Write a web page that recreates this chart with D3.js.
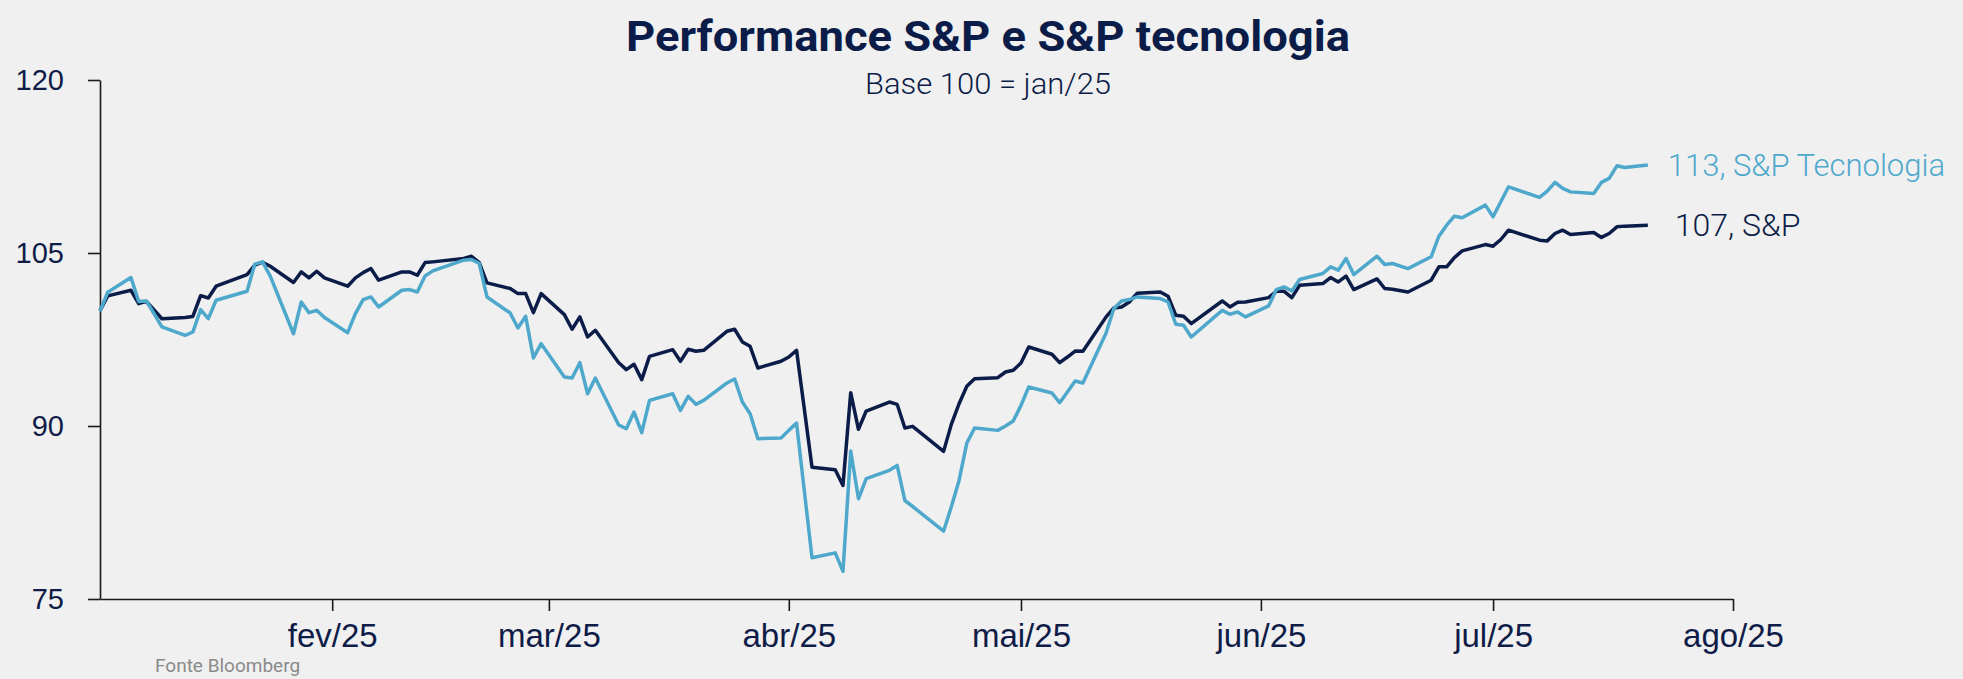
<!DOCTYPE html>
<html>
<head>
<meta charset="utf-8">
<script src="https://cdn.jsdelivr.net/npm/d3@7"></script>
<style>
  body { margin: 0; background: #f0f0f0; }
  svg { display: block; font-family: Roboto, "Open Sans", sans-serif; }
  .axis path, .axis line { stroke: #1a1a1a; stroke-width: 1.6px; }
  .axis text { fill: #0f1c48; font-weight: 300; }
</style>
</head>
<body>
<div id="chart"></div>
<script>
// Chart data (base 100 = jan/25)
var dates = [
  "2025-01-02","2025-01-03","2025-01-06","2025-01-07","2025-01-08","2025-01-10","2025-01-13","2025-01-14",
  "2025-01-15","2025-01-16","2025-01-17","2025-01-21","2025-01-22","2025-01-23","2025-01-24","2025-01-27",
  "2025-01-28","2025-01-29","2025-01-30","2025-01-31","2025-02-03","2025-02-04","2025-02-05","2025-02-06",
  "2025-02-07","2025-02-10","2025-02-11","2025-02-12","2025-02-13","2025-02-14","2025-02-18","2025-02-19",
  "2025-02-20","2025-02-21","2025-02-24","2025-02-25","2025-02-26","2025-02-27","2025-02-28","2025-03-03",
  "2025-03-04","2025-03-05","2025-03-06","2025-03-07","2025-03-10","2025-03-11","2025-03-12","2025-03-13",
  "2025-03-14","2025-03-17","2025-03-18","2025-03-19","2025-03-20","2025-03-21","2025-03-24","2025-03-25",
  "2025-03-26","2025-03-27","2025-03-28","2025-03-31","2025-04-01","2025-04-02","2025-04-03","2025-04-04",
  "2025-04-07","2025-04-08","2025-04-09","2025-04-10","2025-04-11","2025-04-14","2025-04-15","2025-04-16",
  "2025-04-17","2025-04-21","2025-04-22","2025-04-23","2025-04-24","2025-04-25","2025-04-28","2025-04-29",
  "2025-04-30","2025-05-01","2025-05-02","2025-05-05","2025-05-06","2025-05-07","2025-05-08","2025-05-09",
  "2025-05-12","2025-05-13","2025-05-14","2025-05-15","2025-05-16","2025-05-19","2025-05-20","2025-05-21",
  "2025-05-22","2025-05-23","2025-05-27","2025-05-28","2025-05-29","2025-05-30","2025-06-02","2025-06-03",
  "2025-06-04","2025-06-05","2025-06-06","2025-06-09","2025-06-10","2025-06-11","2025-06-12","2025-06-13",
  "2025-06-16","2025-06-17","2025-06-18","2025-06-20","2025-06-23","2025-06-24","2025-06-25","2025-06-26",
  "2025-06-27","2025-06-30","2025-07-01","2025-07-02","2025-07-03","2025-07-07","2025-07-08","2025-07-09",
  "2025-07-10","2025-07-11","2025-07-14","2025-07-15","2025-07-16","2025-07-17","2025-07-18","2025-07-21"
];

var sp = [
  100.0, 101.28, 101.77, 100.61, 100.8, 99.3, 99.4, 99.5,
  101.3, 101.1, 102.12, 103.13, 103.94, 104.2, 103.85, 102.44,
  103.36, 102.84, 103.42, 102.84, 102.12, 102.84, 103.3, 103.65,
  102.64, 103.36, 103.36, 103.07, 104.17, 104.23, 104.52, 104.72,
  104.17, 102.41, 101.92, 101.48, 101.48, 99.83, 101.48, 99.66,
  98.39, 99.46, 97.72, 98.3, 95.5, 94.89, 95.35, 94.02,
  96.04, 96.62, 95.61, 96.65, 96.48, 96.56, 98.21, 98.39,
  97.29, 96.91, 95.03, 95.61, 95.98, 96.56, 91.5, 86.43,
  86.2, 84.84, 92.89, 89.71, 91.3, 92.08, 91.88, 89.82,
  89.97, 87.8, 90.14, 91.93, 93.44, 94.1, 94.19, 94.68,
  94.83, 95.46, 96.85, 96.22, 95.49, 95.98, 96.5, 96.48,
  99.46, 100.24, 100.32, 100.75, 101.5, 101.62, 101.25, 99.6,
  99.51, 98.88, 100.84, 100.32, 100.73, 100.75, 101.13, 101.68,
  101.68, 101.13, 102.2, 102.35, 102.87, 102.49, 102.99, 101.83,
  102.75, 101.92, 101.86, 101.62, 102.64, 103.8, 103.8, 104.6,
  105.18, 105.73, 105.59, 106.17, 106.98, 106.11, 106.05, 106.69,
  106.98, 106.6, 106.78, 106.35, 106.69, 107.27, 107.33, 107.41
];

var tech = [
  99.95, 101.6, 102.87, 100.8, 100.84, 98.6, 97.86, 98.15,
  100.09, 99.31, 100.9, 101.68, 104.03, 104.23, 103.0, 98.0,
  100.75, 99.83, 100.03, 99.4, 98.09, 99.75, 100.95, 101.19,
  100.32, 101.77, 101.83, 101.62, 103.01, 103.45, 104.38, 104.44,
  104.09, 101.19, 99.8, 98.5, 99.51, 95.9, 97.14, 94.25,
  94.16, 95.49, 92.8, 94.16, 90.1, 89.76, 91.21, 89.42,
  92.22, 92.8, 91.35, 92.57, 91.88, 92.22, 93.73, 94.07,
  92.08, 91.07, 88.9, 88.95, 89.62, 90.25, 84.41, 78.57,
  79.0, 77.4, 87.83, 83.69, 85.43, 86.16, 86.58, 83.54,
  83.02, 80.88, 83.0, 85.28, 88.52, 89.82, 89.62, 90.0,
  90.43, 91.79, 93.38, 92.86, 92.02, 92.95, 93.9, 93.73,
  98.07, 100.18, 100.84, 100.96, 101.19, 101.05, 100.75, 98.82,
  98.73, 97.72, 100.03, 99.69, 99.89, 99.46, 100.41, 101.83,
  102.06, 101.71, 102.7, 103.22, 103.8, 103.51, 104.52, 103.13,
  104.72, 104.0, 104.09, 103.65, 104.67, 106.46, 107.41, 108.19,
  108.05, 109.15, 108.14, 109.44, 110.74, 109.82, 110.36, 111.12,
  110.6, 110.3, 110.16, 111.12, 111.47, 112.56, 112.42, 112.62
];

var yTicks = [75, 90, 105, 120];
var xTicks = ["2025-02-01","2025-03-01","2025-04-01","2025-05-01","2025-06-01","2025-07-01","2025-08-01"];
var monthNames = ["jan","fev","mar","abr","mai","jun","jul","ago","set","out","nov","dez"];

// Set up chart
var svgWidth = 1963;
var svgHeight = 679;
var margin = { top: 80, right: 230, bottom: 80, left: 100 };
var width = svgWidth - margin.left - margin.right;
var height = 599 - margin.top;

var parseDate = d3.timeParse("%Y-%m-%d");

var svg = d3.select("#chart")
  .append("svg")
  .attr("width", svgWidth)
  .attr("height", svgHeight);

var chartGroup = svg.append("g")
  .attr("transform", `translate(${margin.left}, ${margin.top})`);

var spData = dates.map((d, i) => ({ date: parseDate(d), value: sp[i] }));
var techData = dates.map((d, i) => ({ date: parseDate(d), value: tech[i] }));

// scales
var xTimeScale = d3.scaleTime()
  .domain([parseDate("2025-01-02"), parseDate("2025-08-01")])
  .range([0, width]);

var yLinearScale = d3.scaleLinear()
  .domain([75, 120])
  .range([height, 0]);

// axes
var bottomAxis = d3.axisBottom(xTimeScale)
  .tickValues(xTicks.map(parseDate))
  .tickSizeInner(12)
  .tickSizeOuter(0)
  .tickPadding(13)
  .tickFormat(d => monthNames[d.getMonth()] + "/" + String(d.getFullYear()).slice(2));

var leftAxis = d3.axisLeft(yLinearScale)
  .tickValues(yTicks)
  .tickSizeInner(12)
  .tickSizeOuter(0)
  .tickPadding(24);

chartGroup.append("g")
  .attr("class", "axis")
  .attr("transform", `translate(0, ${height})`)
  .call(bottomAxis)
  .selectAll("text")
  .style("font-size", "33px");

chartGroup.append("g")
  .attr("class", "axis")
  .call(leftAxis)
  .selectAll("text")
  .style("font-size", "29px");

// lines
var line = d3.line()
  .x(d => xTimeScale(d.date))
  .y(d => yLinearScale(d.value));

chartGroup.append("path")
  .datum(spData)
  .attr("fill", "none")
  .attr("stroke", "#0b1c48")
  .attr("stroke-width", 3.5)
  .attr("stroke-linejoin", "round")
  .attr("d", line);

chartGroup.append("path")
  .datum(techData)
  .attr("fill", "none")
  .attr("stroke", "#4ea8cc")
  .attr("stroke-width", 3.5)
  .attr("stroke-linejoin", "round")
  .attr("d", line);

// end labels
var lastTech = techData[techData.length - 1];
var lastSp = spData[spData.length - 1];

chartGroup.append("text")
  .attr("x", xTimeScale(lastTech.date) + 20)
  .attr("y", yLinearScale(lastTech.value))
  .attr("dy", "0.35em")
  .style("font-size", "31px")
  .style("font-weight", 300)
  .style("fill", "#4ea8cc")
  .text(Math.round(lastTech.value) + ", S&P Tecnologia");

chartGroup.append("text")
  .attr("x", xTimeScale(lastSp.date) + 27)
  .attr("y", yLinearScale(lastSp.value))
  .attr("dy", "0.35em")
  .style("font-size", "32px")
  .style("font-weight", 300)
  .style("fill", "#0b1c48")
  .text(Math.round(lastSp.value) + ", S&P");

// titles
svg.append("text")
  .attr("x", 988)
  .attr("y", 51)
  .attr("text-anchor", "middle")
  .attr("textLength", 724)
  .attr("lengthAdjust", "spacingAndGlyphs")
  .style("font-size", "43px")
  .style("font-weight", 700)
  .style("fill", "#0b1c48")
  .text("Performance S&P e S&P tecnologia");

svg.append("text")
  .attr("x", 988)
  .attr("y", 94)
  .attr("text-anchor", "middle")
  .attr("textLength", 246)
  .attr("lengthAdjust", "spacingAndGlyphs")
  .style("font-size", "29px")
  .style("font-weight", 300)
  .style("fill", "#0b1c48")
  .text("Base 100 = jan/25");

svg.append("text")
  .attr("x", 155)
  .attr("y", 672)
  .style("font-size", "19px")
  .style("fill", "#8a8a8a")
  .text("Fonte Bloomberg");
</script>
</body>
</html>
